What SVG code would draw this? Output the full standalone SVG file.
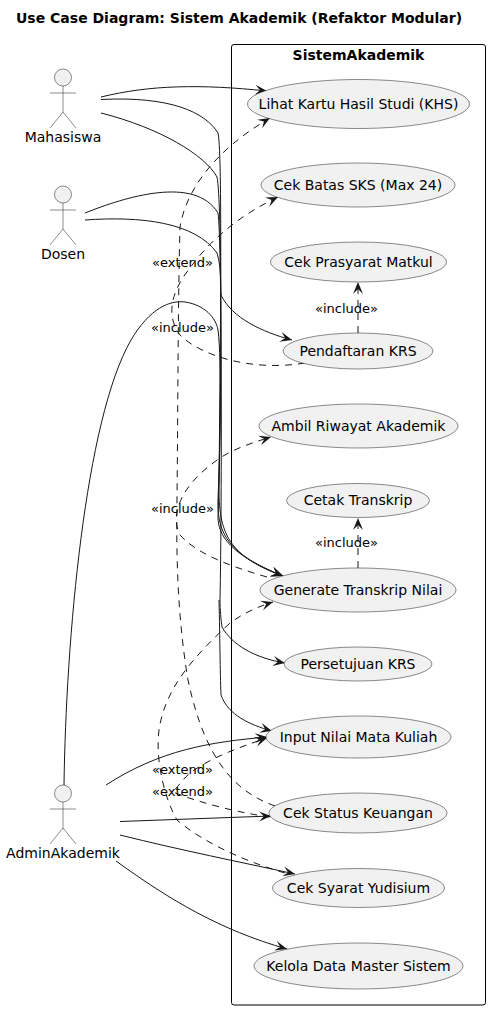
<svg xmlns="http://www.w3.org/2000/svg" width="490" height="1010" viewBox="0 0 490 1010">
<style>
text{font-family:"DejaVu Sans",sans-serif;fill:#000}
.t{font-size:14px;text-anchor:middle}
.s{font-size:13px;text-anchor:middle}
.b{font-weight:bold}
ellipse{fill:#f1f1f1;stroke:#181818;stroke-width:.5}
.a circle{fill:#f1f1f1;stroke:#181818;stroke-width:.5}
.a path{fill:none;stroke:#181818;stroke-width:.5}
#connectors path{fill:none;stroke:#181818;stroke-width:1;marker-end:url(#arrow)}
#connectors path.n{marker-end:none}
#connectors path.d{stroke-dasharray:7 6}
</style>
<defs>
<marker id="arrow" markerUnits="userSpaceOnUse" markerWidth="14" markerHeight="12" refX="12" refY="6" orient="auto"><path d="M0,1 L12,6 L0,11 L5,6Z" fill="#181818"/></marker>
</defs>
<rect width="490" height="1010" fill="#fff"/>
<text x="16" y="23" class="b" font-size="14">Use Case Diagram: Sistem Akademik (Refaktor Modular)</text>
<g id="SistemAkademik"><rect x="231.500" y="44.500" width="254" height="960.500" rx="2.500" fill="none" stroke="#000" stroke-width="1"/><text x="358.500" y="60" class="t b">SistemAkademik</text></g>
<g id="connectors">
<path d="M101,97 C150,85 200,84 267,91"/>
<path d="M101,99.500 C170,96 205,112 218,133 C222,150 221,300 219,480 C218,530 225,555 283,576"/>
<path d="M101,113 C160,128 205,155 217,177 C222,200 222,400 218,517 C218,535 230,555 283,576"/>
<path d="M85,213 C125,197 195,175 218,213 C222,240 222,500 220,600 C220,610 221,620 222,627 C232,645 255,658 285,663"/>
<path d="M85,220 C140,216 195,222 217,253 C222,270 220,285 221,295 C232,318 262,332 292,340"/>
<path d="M64,785 C66,640 85,420 131,340 C150,308 170,300 185,302 C205,305 216,318 218,330 C222,360 220,450 218,500 C217,535 230,555 283,576"/>
<path d="M219,600 C220,640 220,670 221,695 C228,715 250,725 272,731"/>
<path d="M106,785 C160,750 210,742 267,737"/>
<path d="M120,821.500 L271,816"/>
<path d="M120,835 C180,850 240,862 295,874"/>
<path d="M116,861 C170,900 220,930 287,949"/>
<path class="d" d="M275,806 C235,792 205,760 188,680 C178,620 176,560 177,500 C178,400 178,300 180,227 C186,190 215,150 270,118"/>
<path class="d" d="M305,363 C250,372 200,355 180,335 C165,315 172,290 190,268 C210,240 240,215 278,197"/>
<path class="d" d="M267,577 C225,565 195,552 180,535 C170,515 180,485 220,458 C235,448 255,442 271,437"/>
<path class="d" d="M285,873 C240,860 200,840 177,820 C165,800 155,760 159,730 C165,690 190,660 230,623 C245,612 260,606 273,602"/>
<path class="d" d="M270,817 C240,813 200,803 173,792 L183,780 C195,765 230,750 267,738"/>
<path class="d" d="M358,568 L358,518"/>
<path class="d" d="M358,333 L358,282"/>
</g>
<g id="labels">
<text x="182.500" y="267" class="s">«extend»</text>
<text x="182.500" y="332" class="s">«include»</text>
<text x="346.500" y="313" class="s">«include»</text>
<text x="182.500" y="513" class="s">«include»</text>
<text x="346.500" y="547" class="s">«include»</text>
<text x="182.500" y="774" class="s">«extend»</text>
<text x="182.500" y="796" class="s">«extend»</text>
</g>
<g id="Mahasiswa" class="a"><circle cx="63" cy="77.500" r="8.500"/><path d="M63,86 V112 M50,93 H76 M63,112 L50,128 M63,112 L76,128"/><text x="63" y="142" class="t">Mahasiswa</text></g>
<g id="Dosen" class="a"><circle cx="63" cy="194.500" r="8.500"/><path d="M63,203 V229 M50,210 H76 M63,229 L50,245 M63,229 L76,245"/><text x="63" y="259" class="t">Dosen</text></g>
<g id="AdminAkademik" class="a"><circle cx="63" cy="793.500" r="8.500"/><path d="M63,802 V828 M50,809 H76 M63,828 L50,844 M63,828 L76,844"/><text x="63" y="858" class="t">AdminAkademik</text></g>
<g id="uc1"><ellipse cx="358.500" cy="104" rx="111" ry="24.500"/><text x="358.500" y="109" class="t">Lihat Kartu Hasil Studi (KHS)</text></g>
<g id="uc2"><ellipse cx="358" cy="185" rx="97" ry="22"/><text x="358" y="190" class="t">Cek Batas SKS (Max 24)</text></g>
<g id="uc3"><ellipse cx="358.500" cy="262" rx="88" ry="20"/><text x="358.500" y="267" class="t">Cek Prasyarat Matkul</text></g>
<g id="uc4"><ellipse cx="358" cy="351" rx="75" ry="18"/><text x="358" y="356" class="t">Pendaftaran KRS</text></g>
<g id="uc5"><ellipse cx="358.500" cy="426" rx="99.500" ry="22"/><text x="358.500" y="431" class="t">Ambil Riwayat Akademik</text></g>
<g id="uc6"><ellipse cx="358" cy="500.500" rx="71.500" ry="17"/><text x="358" y="505" class="t">Cetak Transkrip</text></g>
<g id="uc7"><ellipse cx="358" cy="590" rx="98" ry="22"/><text x="358" y="595" class="t">Generate Transkrip Nilai</text></g>
<g id="uc8"><ellipse cx="358" cy="664" rx="74" ry="17"/><text x="358" y="669" class="t">Persetujuan KRS</text></g>
<g id="uc9"><ellipse cx="358.500" cy="737" rx="92.500" ry="21"/><text x="358.500" y="742" class="t">Input Nilai Mata Kuliah</text></g>
<g id="uc10"><ellipse cx="358" cy="813" rx="89" ry="20"/><text x="358" y="818" class="t">Cek Status Keuangan</text></g>
<g id="uc11"><ellipse cx="358.500" cy="888" rx="86" ry="19.500"/><text x="358.500" y="893" class="t">Cek Syarat Yudisium</text></g>
<g id="uc12"><ellipse cx="358.500" cy="966" rx="104.500" ry="23"/><text x="358.500" y="971" class="t">Kelola Data Master Sistem</text></g>
</svg>
